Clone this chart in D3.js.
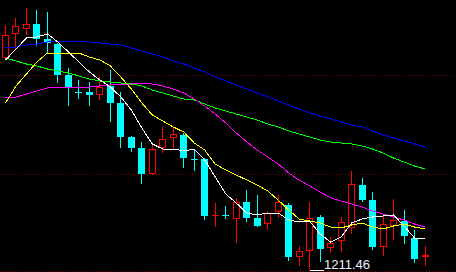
<!DOCTYPE html>
<html><head><meta charset="utf-8">
<script src="https://cdn.jsdelivr.net/npm/d3@7/dist/d3.min.js"></script>
<style>html,body{margin:0;padding:0;background:#000;overflow:hidden}svg{display:block}</style>
</head><body>
<svg id="c" width="456" height="272"></svg>
<script>
// daily OHLC (visible window)
const opens  = [1317.46,1329.46,1331.96,1334.46,1326.96,1324.46,1308.96,1300.71,1300.46,1298.96,1303.46,1294.96,1277.96,1272.46,1259.46,1272.46,1277.46,1278.96,1267.21,1266.96,1238.71,1239.21,1236.96,1245.46,1237.46,1234.46,1240.46,1243.96,1217.96,1220.96,1237.96,1222.46,1225.96,1232.46,1253.96,1246.46,1222.96,1233.46,1235.96,1227.46,1217.96];
const highs  = [1333.96,1337.46,1342.46,1341.46,1340.46,1324.96,1312.46,1306.46,1305.46,1307.96,1311.46,1300.46,1278.46,1275.46,1274.96,1282.96,1282.96,1279.96,1271.46,1267.46,1244.96,1243.46,1247.46,1251.46,1248.96,1240.96,1248.96,1244.96,1223.46,1245.46,1238.96,1227.96,1237.96,1260.96,1257.46,1250.46,1238.46,1246.96,1241.46,1231.46,1223.46];
const lows   = [1316.96,1321.46,1328.96,1323.46,1319.96,1304.96,1293.46,1296.96,1293.46,1296.46,1285.46,1272.46,1270.46,1254.46,1258.96,1269.96,1271.96,1262.46,1260.96,1236.46,1232.96,1236.96,1224.96,1235.46,1232.96,1231.46,1237.46,1215.96,1213.46,1211.46,1215.46,1219.96,1220.46,1229.46,1245.46,1221.46,1218.46,1226.46,1224.46,1214.96,1213.46];
const closes = [1328.96,1333.46,1334.46,1326.96,1324.96,1308.96,1302.96,1300.21,1298.96,1302.96,1294.96,1277.96,1272.46,1259.46,1271.96,1276.96,1279.46,1267.46,1266.71,1238.46,1239.21,1238.71,1245.46,1237.46,1233.46,1239.96,1245.46,1217.96,1220.96,1237.46,1221.96,1224.96,1235.46,1254.46,1246.46,1222.96,1234.46,1236.46,1228.46,1216.96,1218.96];

// moving averages
const ma5  = [1316.46,1321.96,1327.46,1327.96,1329.46,1325.46,1320.46,1315.46,1310.46,1306.46,1302.96,1297.96,1291.46,1282.46,1274.46,1271.96,1271.96,1270.96,1271.96,1266.46,1257.96,1249.46,1244.96,1239.96,1238.96,1239.96,1239.96,1236.46,1235.46,1235.96,1229.46,1225.46,1227.96,1234.96,1236.96,1237.96,1238.46,1238.96,1233.46,1227.46,1227.46];
const ma10 = [1294.96,1303.46,1309.46,1315.46,1319.96,1319.96,1319.96,1319.96,1317.96,1316.46,1313.46,1307.96,1301.96,1294.96,1288.96,1285.96,1282.96,1280.46,1274.96,1271.46,1264.46,1261.46,1258.96,1256.46,1253.96,1250.96,1246.46,1241.46,1236.96,1235.96,1234.96,1232.96,1232.46,1233.96,1234.96,1232.96,1231.96,1233.46,1234.46,1232.96,1231.96];
const ma20 = [1297.46,1297.96,1299.46,1300.96,1302.46,1302.96,1302.96,1302.96,1302.96,1303.46,1303.96,1304.46,1304.46,1304.96,1304.46,1303.46,1301.96,1299.96,1296.96,1293.46,1289.46,1284.96,1279.96,1275.46,1271.46,1267.96,1264.46,1259.96,1256.46,1253.46,1250.46,1247.46,1245.96,1244.46,1242.96,1240.96,1239.46,1237.96,1236.46,1234.46,1232.96];
const ma30 = [1317.46,1315.96,1314.46,1313.46,1311.96,1310.96,1309.96,1308.46,1306.96,1305.96,1305.46,1304.96,1304.46,1303.46,1301.46,1299.96,1298.46,1296.96,1296.46,1294.46,1292.46,1290.96,1289.46,1287.96,1286.46,1284.46,1282.96,1280.96,1279.46,1277.96,1276.46,1275.46,1274.96,1274.46,1273.46,1271.96,1269.96,1267.46,1265.46,1263.46,1261.96];
const ma60 = [1322.46,1322.96,1323.96,1324.46,1325.46,1325.71,1325.96,1325.71,1325.46,1324.96,1324.46,1323.96,1322.46,1320.96,1319.46,1317.96,1315.96,1314.46,1312.46,1310.46,1307.96,1305.96,1303.96,1301.96,1299.96,1297.96,1295.96,1293.96,1291.96,1289.96,1288.46,1286.96,1285.46,1283.96,1282.96,1280.96,1278.96,1277.46,1275.96,1274.46,1272.96];

const gridLevels = [1308.96, 1259.46, 1210.96];

const W = 456, H = 272;
const svg = d3.select("#c");
svg.append("rect").attr("width", W).attr("height", H).attr("fill", "#000");

const x = d3.scaleLinear().domain([0, opens.length - 1]).range([5.5, 425]);
const y = d3.scaleLinear().domain([1210.46, 1346.46]).range([H, 0]);

// grid
svg.append("g").selectAll("line").data(gridLevels).join("line")
  .attr("x1", 0).attr("x2", W)
  .attr("y1", d => Math.round(y(d)) + 0.5).attr("y2", d => Math.round(y(d)) + 0.5)
  .attr("stroke", "#800000").attr("stroke-dasharray", "1,2").attr("shape-rendering", "crispEdges");

// candles
const g = svg.append("g").attr("shape-rendering", "crispEdges");
opens.forEach((o, i) => {
  const c = closes[i], h = highs[i], l = lows[i];
  const xl = Math.round(x(i) - 3.5);
  const wx = xl + 3.5;
  const up = c > o;
  const yTop = Math.round(y(Math.max(o, c)));
  const yBot = Math.round(y(Math.min(o, c)));
  const yH = Math.round(y(h)), yL = Math.round(y(l));
  if (up) {
    const col = "#ff0000";
    if (yBot - yTop <= 1) {
      g.append("line").attr("x1", xl).attr("x2", xl + 7).attr("y1", yTop + 0.5).attr("y2", yTop + 0.5).attr("stroke", col);
      g.append("line").attr("x1", wx).attr("x2", wx).attr("y1", yH).attr("y2", yL).attr("stroke", col);
    } else {
      g.append("line").attr("x1", wx).attr("x2", wx).attr("y1", yH).attr("y2", yTop).attr("stroke", col);
      g.append("line").attr("x1", wx).attr("x2", wx).attr("y1", yBot).attr("y2", yL).attr("stroke", col);
      g.append("rect").attr("x", xl + 0.5).attr("y", yTop + 0.5).attr("width", 6).attr("height", yBot - yTop - 1)
        .attr("fill", "none").attr("stroke", col);
    }
  } else {
    const col = "#00ffff";
    g.append("line").attr("x1", wx).attr("x2", wx).attr("y1", yH).attr("y2", yL).attr("stroke", col);
    if (yBot - yTop <= 1) {
      g.append("line").attr("x1", xl).attr("x2", xl + 7).attr("y1", yTop + 0.5).attr("y2", yTop + 0.5).attr("stroke", col);
    } else {
      g.append("rect").attr("x", xl).attr("y", yTop).attr("width", 7).attr("height", yBot - yTop).attr("fill", col);
    }
  }
});

// moving average lines
const series = [
  {v: ma60, c: "#0000ff"},
  {v: ma30, c: "#00ff00"},
  {v: ma20, c: "#ff00ff"},
  {v: ma10, c: "#ffff00"},
  {v: ma5,  c: "#ffffff"}
];
const line = d3.line().x((d, i) => x(i)).y(d => y(d));
svg.append("g").selectAll("path").data(series).join("path")
  .attr("d", d => line(d.v)).attr("fill", "none").attr("stroke", d => d.c).attr("stroke-width", 1)
  .attr("shape-rendering", "crispEdges");

// lowest-price marker
const minLow = d3.min(lows);
const minIdx = lows.indexOf(minLow);
const my = Math.round(y(minLow)) + 0.5;
svg.append("line").attr("x1", Math.round(x(minIdx))).attr("x2", 324).attr("y1", my).attr("y2", my)
  .attr("stroke", "#ffffff").attr("shape-rendering", "crispEdges");
svg.append("text").attr("x", 324).attr("y", 269)
  .attr("font-family", "'Liberation Sans', Arial, sans-serif").attr("font-size", 13)
  .attr("fill", "#eef0ff").text(d3.format(".2f")(minLow));
</script>
</body></html>
